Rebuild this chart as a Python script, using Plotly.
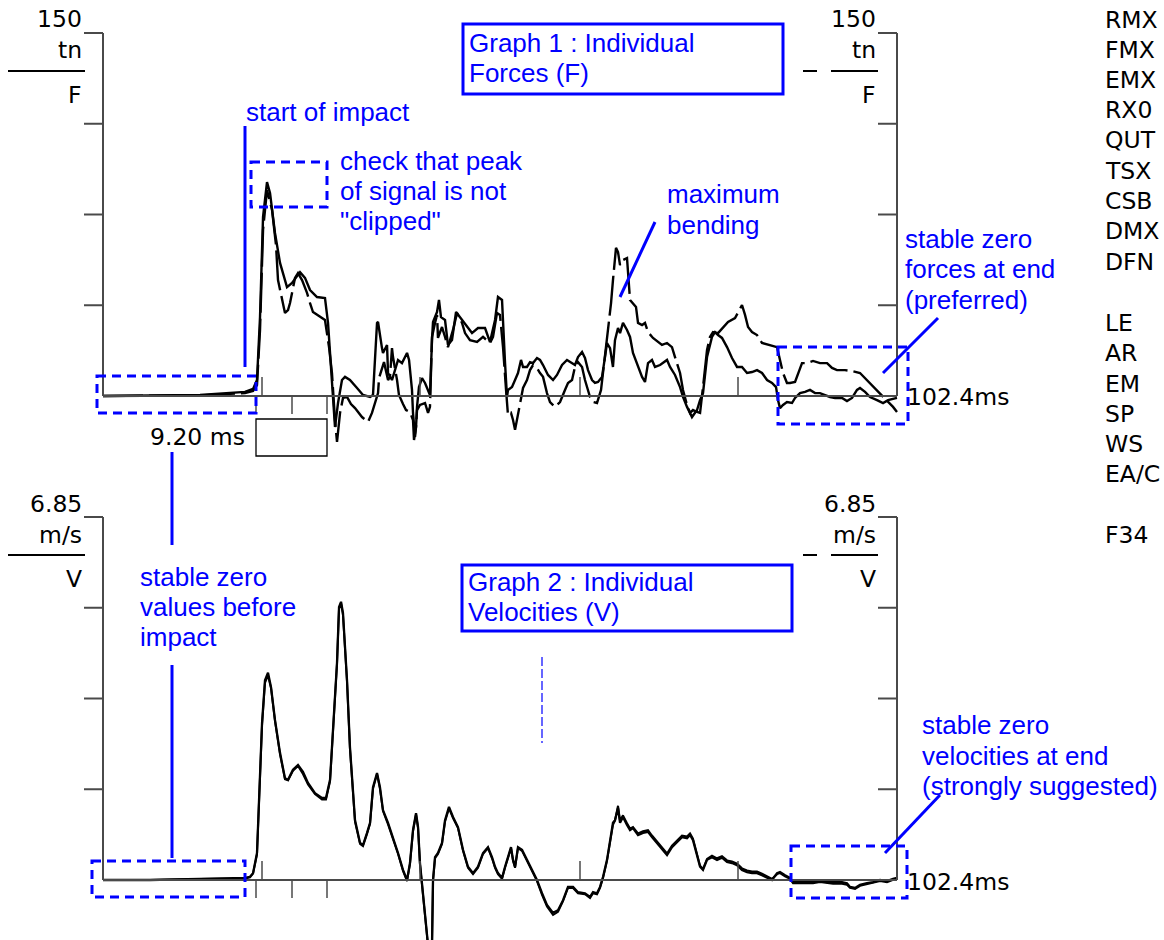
import plotly.graph_objects as go

# ---------------- data ----------------
# Graph 1 : individual forces (tn) vs time (ms)
F1_t = [0, 6.06, 12.51, 18.31, 19.35, 19.86, 20.25, 20.64, 21.15, 21.54,
        22.18, 22.83, 23.73, 24.38, 25.41, 26.05, 26.70, 27.60, 28.63, 29.02,
        29.53, 29.92, 30.31, 30.82, 31.21, 31.85, 32.76, 33.53, 34.44, 34.82,
        35.34, 35.47, 35.98, 36.11, 36.63, 36.76, 37.27, 37.66, 38.05, 38.56,
        39.21, 39.47, 39.85, 39.98, 40.24, 40.37, 40.50, 40.75, 41.14, 41.53,
        42.17, 42.43, 42.56, 43.08, 43.33, 43.59, 44.11, 44.49, 45.01, 45.53,
        46.04, 46.94, 47.59, 48.36, 49.27, 49.91, 50.56, 50.94, 51.46, 51.85,
        52.10, 52.23, 52.75, 53.14, 53.52, 53.91, 54.17, 54.68, 55.07, 55.46,
        55.97, 56.36, 56.75, 57.39, 58.04, 58.55, 59.20, 59.84, 60.49, 60.87,
        61.26, 61.78, 62.16, 62.55, 63.07, 63.45, 63.84, 64.36, 64.74, 65.00,
        65.39, 65.77, 66.03, 66.42, 66.68, 67.06, 67.58, 67.97, 68.35, 68.87,
        69.52, 69.90, 70.29, 70.80, 71.19, 71.84, 72.74, 73.13, 73.77, 74.42,
        74.80, 75.32, 75.71, 75.96, 76.61, 77.00, 77.38, 77.90, 78.54, 78.93,
        79.32, 79.83, 80.48, 81.12, 81.77, 82.41, 83.06, 83.70, 84.35, 84.99,
        85.64, 86.28, 86.80, 87.05, 87.31, 87.70, 88.21, 88.86, 89.25, 89.89,
        90.54, 91.18, 91.83, 92.47, 93.12, 93.76, 94.41, 95.31, 95.95, 96.60,
        97.24, 97.63, 98.28, 98.92, 99.82, 100.60, 101.24, 101.89, 102.40]
F1_v = [0, 0.2, 0.4, 1.7, 2.9, 6.6, 32.6, 74.0, 88.4, 83.9,
        67.4, 55.0, 45.0, 46.7, 51.2, 48.8, 43.8, 40.9, 40.5, 30.2,
        5.4, -12.8, -2.9, 6.6, 7.9, 6.6, 3.3, 0.4, -0.4, 0.4,
        30.2, 30.6, 19.8, 17.8, 21.1, 9.5, 6.6, 10.7, 14.9, 13.6,
        17.8, 14.9, 2.5, -7.0, -16.9, -12.8, -4.5, 3.7, 7.4, 5.4,
        0.4, 23.1, 30.6, 34.7, 39.7, 32.6, 31.4, 21.1, 23.1, 34.7,
        32.6, 28.5, 26.0, 28.1, 28.1, 22.3, 31.4, 40.9, 39.7, 13.6,
        -0.4, 2.5, 3.7, 6.6, 9.5, 14.9, 12.0, 12.0, 14.0, 13.6,
        15.7, 14.9, 12.8, 8.7, 6.6, 8.7, 12.8, 14.9, 13.6, 12.8,
        16.1, 18.2, 15.7, 10.7, 6.6, 5.4, 5.8, 7.9, 16.1, 21.9,
        19.8, 12.0, 23.1, 28.1, 26.0, 30.2, 27.3, 24.4, 17.8, 13.6,
        7.9, 5.8, 13.6, 14.9, 12.0, 12.8, 14.9, 12.0, 8.7, 3.7,
        -0.4, -4.5, -7.0, -8.7, -5.8, -1.7, 1.2, 16.1, 24.4, 26.4,
        25.2, 24.0, 20.2, 15.7, 12.0, 12.0, 9.5, 9.9, 10.7, 9.5,
        6.6, 5.4, 3.7, -1.7, -5.0, -3.7, -2.5, -2.9, -0.8, 1.2,
        1.7, 2.5, 1.2, 1.2, 0.4, -0.4, -0.8, -0.8, -2.1, -0.8,
        2.5, 3.3, 1.7, -0.4, -1.7, -2.9, -1.7, -1.2, -0.8]

F2_t = [0, 6.06, 12.51, 18.31, 19.35, 19.86, 20.25, 20.64, 21.15, 21.80,
        22.31, 22.57, 23.09, 23.47, 23.86, 24.12, 24.76, 25.15, 25.67, 26.31,
        26.70, 27.08, 28.63, 28.89, 29.15, 29.53, 29.66, 29.92, 30.18, 30.57,
        30.95, 31.47, 31.98, 32.50, 33.40, 34.18, 34.69, 35.08, 35.47, 35.60,
        35.98, 36.24, 36.76, 37.01, 37.27, 37.40, 37.92, 38.17, 38.69, 39.08,
        39.59, 39.98, 40.11, 40.37, 40.50, 40.88, 41.53, 41.92, 42.17, 42.43,
        42.82, 43.08, 43.20, 43.72, 44.11, 44.49, 45.14, 45.66, 46.30, 46.69,
        47.33, 48.24, 49.01, 49.91, 50.30, 50.81, 51.20, 51.59, 51.98, 52.23,
        52.62, 52.88, 53.14, 53.39, 53.78, 54.17, 54.68, 55.07, 55.46, 55.97,
        56.36, 56.75, 57.26, 57.65, 58.29, 58.94, 59.58, 59.97, 60.49, 60.87,
        61.26, 61.78, 62.16, 62.81, 63.20, 63.71, 64.23, 64.62, 65.13, 65.52,
        65.77, 66.16, 66.42, 66.68, 67.06, 67.58, 67.97, 68.74, 69.00, 69.52,
        69.90, 70.29, 70.93, 71.58, 72.09, 72.74, 73.38, 73.77, 74.42, 74.80,
        75.32, 75.71, 76.09, 76.61, 77.00, 77.38, 77.90, 78.28, 78.67, 79.32,
        79.96, 80.61, 81.51, 82.41, 82.80, 83.19, 83.70, 84.35, 84.99, 86.02,
        86.93, 87.31, 87.70, 88.21, 88.60, 89.25, 90.15, 90.79, 91.57, 92.47,
        93.38, 94.02, 94.66, 95.69, 96.60, 97.63, 98.53, 99.31, 100.21, 101.11,
        101.89, 102.40]
F2_v = [0, 0, 0.2, 1.2, 2.1, 4.5, 27.3, 68.6, 85.1, 76.9,
        62.4, 47.9, 39.7, 34.3, 35.5, 38.4, 48.8, 50.8, 47.9, 42.6,
        38.4, 34.7, 31.4, 26.0, 20.2, 9.5, 1.2, -9.9, -19.0, -7.0,
        -0.8, -0.4, -3.3, -5.0, -8.7, -10.7, -7.0, -2.5, 1.2, 7.4,
        11.6, 14.0, 6.6, 7.9, 19.8, 16.1, 6.6, 0.4, -3.3, -5.8,
        -6.6, -9.9, -18.2, -12.8, -5.8, -3.7, -2.9, -7.0, -4.5, 24.4,
        30.2, 33.5, 24.0, 28.5, 24.4, 20.2, 27.3, 34.3, 30.2, 26.0,
        23.1, 22.3, 24.4, 21.9, 24.4, 34.3, 33.5, 20.2, 2.5, -7.9,
        -7.0, -9.9, -14.0, -9.9, -3.7, 3.3, 6.6, 10.7, 12.8, 11.6,
        9.5, 7.9, 1.2, -2.5, -4.5, -2.5, 2.5, 5.4, 6.6, 12.0,
        14.0, 12.0, 6.6, -0.4, -2.5, -2.9, 2.5, 12.8, 28.5, 38.4,
        47.9, 61.2, 59.5, 54.1, 56.2, 57.0, 39.7, 36.8, 30.2, 29.3,
        30.2, 26.4, 24.0, 22.3, 21.1, 21.9, 20.2, 16.1, 9.5, 2.5,
        -3.7, -7.0, -5.8, -6.6, -7.0, 3.7, 19.0, 24.4, 26.4, 26.0,
        28.5, 30.6, 32.2, 37.6, 33.5, 28.5, 26.4, 25.2, 21.9, 21.1,
        20.2, 14.9, 9.5, 5.4, 5.4, 5.8, 13.6, 13.6, 14.5, 13.6,
        13.6, 11.6, 10.7, 10.7, 10.3, 9.5, 6.6, 3.7, 1.2, -1.7,
        -4.5, -6.6]

# Graph 2 : individual velocities (m/s) vs time (ms)
V_t = [0, 6.06, 12.51, 18.31, 18.96, 19.35, 19.86, 20.25, 20.51, 20.89,
       21.28, 21.67, 22.18, 22.83, 23.47, 23.86, 24.50, 25.15, 25.79, 26.44,
       27.34, 28.24, 28.76, 29.28, 29.66, 30.18, 30.44, 30.70, 30.95, 31.47,
       31.85, 32.50, 33.15, 33.53, 34.05, 34.44, 34.82, 35.34, 35.72, 36.11,
       36.76, 37.40, 38.05, 38.69, 39.21, 39.59, 39.98, 40.37, 40.63, 40.88,
       41.27, 41.53, 41.92, 42.17, 42.43, 42.56, 42.82, 43.20, 43.72, 44.11,
       44.62, 45.14, 45.78, 46.43, 47.07, 47.72, 48.36, 49.01, 49.65, 50.17,
       50.56, 50.94, 51.46, 51.85, 52.23, 52.62, 52.88, 53.14, 53.52, 54.04,
       54.68, 55.33, 55.97, 56.62, 57.26, 58.04, 58.68, 59.33, 59.97, 60.62,
       61.26, 62.16, 62.81, 63.20, 63.71, 64.10, 64.49, 65.00, 65.39, 65.77,
       66.03, 66.42, 66.68, 67.06, 67.58, 67.97, 68.35, 69.00, 69.64, 70.29,
       70.80, 71.45, 72.09, 72.74, 73.38, 74.03, 74.67, 75.32, 75.71, 76.09,
       76.61, 77.00, 77.38, 77.90, 78.54, 79.19, 79.83, 80.48, 81.12, 81.77,
       82.41, 83.06, 83.70, 84.35, 84.99, 85.64, 86.28, 86.93, 87.31, 87.96,
       88.60, 88.99, 89.89, 90.79, 91.57, 92.47, 93.38, 94.15, 95.31, 95.95,
       96.34, 96.99, 97.63, 98.53, 99.31, 100.21, 101.11, 101.89, 102.40]
V1_v = [0, 0, 0.02, 0.04, 0.06, 0.13, 0.51, 1.89, 2.96, 3.77,
        3.91, 3.64, 3.02, 2.40, 1.92, 1.89, 2.08, 2.17, 2.04, 1.83,
        1.64, 1.55, 1.55, 1.89, 2.83, 4.10, 5.15, 5.25, 5.04, 3.77,
        2.51, 1.13, 0.70, 0.66, 0.89, 1.08, 1.75, 2.02, 1.75, 1.32,
        1.08, 0.81, 0.51, 0.19, 0.00, 0.32, 0.94, 1.26, 1.00, 0.32,
        -0.32, -0.75, -1.23, -1.45, -1.23, 0.00, 0.43, 0.51, 0.70, 1.13,
        1.38, 1.19, 1.00, 0.57, 0.25, 0.13, 0.25, 0.51, 0.62, 0.43,
        0.25, 0.13, 0.04, 0.25, 0.42, 0.62, 0.38, 0.25, 0.62, 0.57,
        0.38, 0.19, 0.00, -0.25, -0.47, -0.62, -0.57, -0.38, -0.13, -0.13,
        -0.23, -0.25, -0.32, -0.23, -0.25, -0.13, 0.06, 0.38, 0.75, 1.08,
        1.13, 1.36, 1.08, 1.19, 1.04, 0.94, 0.98, 0.85, 0.89, 0.91,
        0.81, 0.70, 0.60, 0.47, 0.62, 0.72, 0.81, 0.79, 0.85, 0.75,
        0.43, 0.25, 0.19, 0.38, 0.43, 0.38, 0.42, 0.34, 0.32, 0.28,
        0.19, 0.15, 0.13, 0.13, 0.09, 0.04, 0.00, 0.13, 0.15, 0.09,
        0.04, -0.04, -0.04, -0.04, -0.04, -0.02, -0.04, -0.04, -0.04, -0.06,
        -0.13, -0.15, -0.09, -0.06, -0.04, 0.00, -0.02, 0.02, 0.04]
V2_v = [0, 0, 0.02, 0.03, 0.05, 0.12, 0.48, 1.85, 2.92, 3.72,
        3.86, 3.62, 3.00, 2.37, 1.90, 1.88, 2.06, 2.15, 2.00, 1.80,
        1.62, 1.52, 1.52, 1.86, 2.80, 4.08, 5.12, 5.22, 5.00, 3.74,
        2.48, 1.10, 0.68, 0.64, 0.87, 1.06, 1.72, 2.00, 1.72, 1.30,
        1.05, 0.79, 0.49, 0.17, -0.02, 0.30, 0.92, 1.24, 0.98, 0.30,
        -0.34, -0.78, -1.25, -1.48, -1.25, -0.02, 0.41, 0.49, 0.68, 1.10,
        1.35, 1.17, 0.98, 0.55, 0.23, 0.11, 0.23, 0.49, 0.60, 0.41,
        0.23, 0.11, 0.02, 0.23, 0.40, 0.60, 0.36, 0.23, 0.60, 0.55,
        0.36, 0.17, -0.02, -0.28, -0.50, -0.66, -0.60, -0.40, -0.15, -0.15,
        -0.25, -0.27, -0.34, -0.25, -0.27, -0.15, 0.04, 0.36, 0.72, 1.04,
        1.12, 1.40, 1.12, 1.22, 1.07, 0.97, 1.00, 0.88, 0.92, 0.94,
        0.84, 0.73, 0.63, 0.50, 0.65, 0.75, 0.84, 0.82, 0.88, 0.78,
        0.46, 0.27, 0.21, 0.40, 0.46, 0.41, 0.45, 0.37, 0.35, 0.31,
        0.22, 0.18, 0.16, 0.16, 0.12, 0.07, 0.02, 0.11, 0.13, 0.07,
        0.02, -0.06, -0.06, -0.07, -0.06, -0.04, -0.06, -0.07, -0.07, -0.09,
        -0.15, -0.17, -0.11, -0.08, -0.06, -0.02, -0.04, 0.00, 0.03]

T_END = 102.4          # ms, record length
F_MAX = 150            # tn, top of force scale
V_MAX = 6.85           # m/s, top of velocity scale
F_UNIT, V_UNIT = "tn", "m/s"
RIGHT_CODES = ["RMX", "FMX", "EMX", "RX0", "QUT", "TSX", "CSB", "DMX", "DFN",
               "LE", "AR", "EM", "SP", "WS", "EA/C", "F34"]

# ---------------- layout geometry (pixels) ----------------
W, H = 1164, 940
AX_L, AX_R = 103, 897
TOP_ZERO, TOP_TOP = 396, 33
BOT_ZERO, BOT_TOP = 880, 517
TOP_DOM = (0, 460)
BOT_DOM = (470, 940)


def px(x):
    return x / W


def py(y):
    return 1 - y / H


t_per_px = T_END / (AX_R - AX_L)
f_per_px = F_MAX / (TOP_ZERO - TOP_TOP)
v_per_px = V_MAX / (BOT_ZERO - BOT_TOP)

x_range = [(0 - AX_L) * t_per_px, (W - AX_L) * t_per_px]
y1_range = [(TOP_ZERO - TOP_DOM[1]) * f_per_px, (TOP_ZERO - TOP_DOM[0]) * f_per_px]
y2_range = [(BOT_ZERO - BOT_DOM[1]) * v_per_px, (BOT_ZERO - BOT_DOM[0]) * v_per_px]

BLUE = "#0000ff"
AXC = "#4a4a4a"
BLACK_FONT = "DejaVu Sans"
BLUE_FONT = "Liberation Sans, Arial, sans-serif"
KS = 23.5   # black label size
BS = 26     # blue note size

fig = go.Figure()
fig.add_trace(go.Scatter(x=F1_t, y=F1_v, mode="lines", xaxis="x", yaxis="y",
                         line=dict(color="black", width=2.4), showlegend=False, hoverinfo="skip"))
fig.add_trace(go.Scatter(x=F2_t, y=F2_v, mode="lines", xaxis="x", yaxis="y",
                         line=dict(color="black", width=2.4, dash="40px,6px"), showlegend=False, hoverinfo="skip"))
fig.add_trace(go.Scatter(x=V_t, y=V1_v, mode="lines", xaxis="x2", yaxis="y2",
                         line=dict(color="black", width=2.3), showlegend=False, hoverinfo="skip"))
fig.add_trace(go.Scatter(x=V_t, y=V2_v, mode="lines", xaxis="x2", yaxis="y2",
                         line=dict(color="black", width=2.0), showlegend=False, hoverinfo="skip"))

shapes = []


def seg(x0, y0, x1, y1, color=AXC, width=2, dash=None):
    ln = dict(color=color, width=width)
    if dash:
        ln["dash"] = dash
    shapes.append(dict(type="line", xref="paper", yref="paper",
                       x0=px(x0), y0=py(y0), x1=px(x1), y1=py(y1), line=ln, layer="above"))


def rect(x0, y0, x1, y1, color, width, dash=None):
    ln = dict(color=color, width=width)
    if dash:
        ln["dash"] = dash
    shapes.append(dict(type="rect", xref="paper", yref="paper",
                       x0=px(x0), y0=py(y0), x1=px(x1), y1=py(y1), line=ln, layer="above"))


# axes frames
for zero, top in ((TOP_ZERO, TOP_TOP), (BOT_ZERO, BOT_TOP)):
    seg(AX_L, top, AX_L, zero)
    seg(AX_R, top, AX_R, zero)
    seg(AX_L, zero, AX_R, zero)
    step = (zero - top) / 4
    for i in range(4):
        yy = top + i * step
        seg(84, yy, AX_L, yy)
        seg(878, yy, AX_R, yy)
    for xx in (262, 420, 580, 738):
        seg(xx, zero - 19, xx, zero, width=1.5)
    for xx in (256, 292, 327):
        seg(xx, zero, xx, zero + 18, width=1.5)

# unit separators
for yy in (71, 555):
    seg(8, yy, 85, yy, color="black", width=2)
    seg(831, yy, 878, yy, color="black", width=2)
    seg(803, yy, 817, yy, color="black", width=2)

# 9.20 ms scale box
rect(256, 419, 327, 456, "black", 1.3)

# blue boxes and pointers
rect(463, 24, 783, 94, BLUE, 3)
rect(462, 565, 792, 631, BLUE, 3)
BD = "9px,6px"
rect(97, 376, 256, 413, BLUE, 3, BD)
rect(251, 162, 327, 207, BLUE, 3, BD)
rect(778, 347, 908, 424, BLUE, 3, BD)
rect(92, 861, 245, 897, BLUE, 3, BD)
rect(791, 846, 907, 898, BLUE, 3, BD)
seg(245, 126, 245, 367, color=BLUE, width=3)
seg(172, 452, 172, 545, color=BLUE, width=3)
seg(172, 665, 172, 858, color=BLUE, width=3)
seg(620, 297, 655, 222, color=BLUE, width=3)
seg(883, 373, 938, 318, color=BLUE, width=3)
seg(885, 853, 940, 795, color=BLUE, width=3)
seg(542, 657, 542, 743, color=BLUE, width=1.2, dash="9px,3px")

ann = []


def txt(x, y, s, anchor="left", color="black", size=KS, family=BLACK_FONT):
    ann.append(dict(x=px(x), y=py(y), xref="paper", yref="paper", text=s, showarrow=False,
                    xanchor=anchor, yanchor="middle",
                    font=dict(color=color, size=size, family=family)))


# scale labels
for xr in (84, 878):
    txt(xr, 19, str(F_MAX), "right")
    txt(xr, 50, F_UNIT, "right")
    txt(xr, 95, "F", "right")
    txt(xr, 504, f"{V_MAX:.2f}", "right")
    txt(xr, 535, V_UNIT, "right")
    txt(xr, 579, "V", "right")
txt(247, 437, "9.20 ms", "right")
txt(905, 397, f"{T_END}ms")
txt(905, 882, f"{T_END}ms")

code_y = [20, 50, 80, 110, 140, 171, 201, 231, 262, 323, 353, 384, 414, 444, 474, 535]
for s, yy in zip(RIGHT_CODES, code_y):
    txt(1103, yy, s)


def btxt(x, y, s):
    txt(x, y, s, "left", BLUE, BS, BLUE_FONT)


btxt(467, 43, "Graph 1 : Individual")
btxt(467, 73, "Forces (F)")
btxt(466, 582, "Graph 2 : Individual")
btxt(466, 612, "Velocities (V)")
btxt(244, 112, "start of impact")
btxt(338, 161, "check that peak")
btxt(338, 191, "of signal is not")
btxt(338, 221, "\"clipped\"")
btxt(665, 194, "maximum")
btxt(665, 225, "bending")
btxt(903, 239, "stable zero")
btxt(903, 269, "forces at end")
btxt(903, 300, "(preferred)")
btxt(138, 577, "stable zero")
btxt(138, 607, "values before")
btxt(138, 637, "impact")
btxt(920, 725, "stable zero")
btxt(920, 756, "velocities at end")
btxt(920, 786, "(strongly suggested)")

hidden = dict(visible=False, showgrid=False, zeroline=False, fixedrange=True)
fig.update_layout(
    width=W, height=H,
    margin=dict(l=0, r=0, t=0, b=0),
    paper_bgcolor="white", plot_bgcolor="rgba(0,0,0,0)",
    showlegend=False,
    xaxis=dict(domain=[0, 1], range=x_range, anchor="y", **hidden),
    yaxis=dict(domain=[py(TOP_DOM[1]), py(TOP_DOM[0])], range=y1_range, anchor="x", **hidden),
    xaxis2=dict(domain=[0, 1], range=x_range, anchor="y2", **hidden),
    yaxis2=dict(domain=[py(BOT_DOM[1]), py(BOT_DOM[0])], range=y2_range, anchor="x2", **hidden),
    shapes=shapes,
    annotations=ann,
)

fig.write_html("out.html", config={"displayModeBar": False},
               post_script="document.body.style.margin='0';")
